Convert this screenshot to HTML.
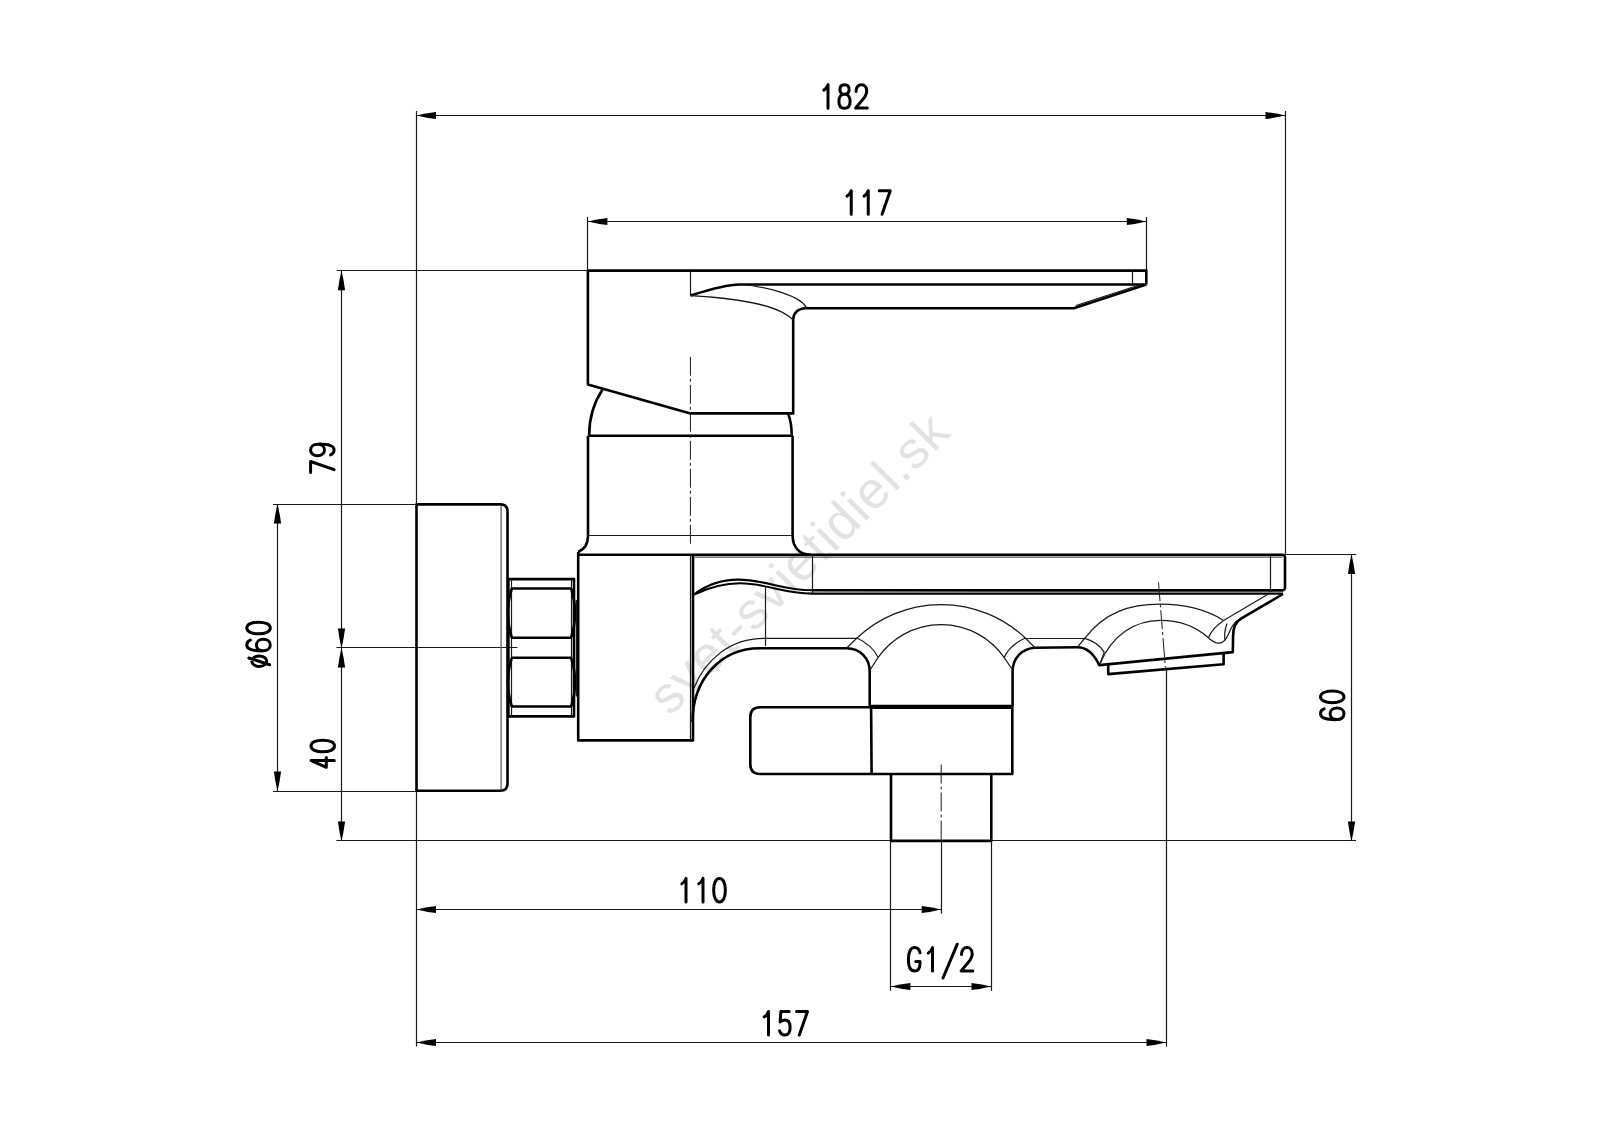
<!DOCTYPE html>
<html><head><meta charset="utf-8"><style>
html,body{margin:0;padding:0;background:#fff;width:1600px;height:1131px;overflow:hidden}
svg{display:block}
.tn{fill:none;stroke:#1a1a1a;stroke-width:1.2}
.tk{fill:none;stroke:#000;stroke-width:2.6;stroke-linejoin:round}
.cl{fill:none;stroke:#1a1a1a;stroke-width:1;stroke-dasharray:19 3 3 3}
.ar{fill:#000;stroke:none}
.md{fill:none;stroke:#555;stroke-width:1.2}
.md2{fill:none;stroke:#000;stroke-width:2.1;stroke-linejoin:round}
.tx path{fill:none;stroke:#000;stroke-width:3;stroke-linecap:round;stroke-linejoin:round}
.wm{font-family:"Liberation Sans",sans-serif;fill:#e2e2e2}
</style></head><body>
<svg width="1600" height="1131" viewBox="0 0 1600 1131">
<text class="wm" font-size="52" letter-spacing="1.2" transform="translate(669.9,717.05) rotate(-45)">svet-svietidiel.sk</text>
<path class="tn" d="M416.5,111.0 L416.5,1046.5"/>
<path class="tn" d="M1285.5,111.0 L1285.5,554.6"/>
<path class="tn" d="M416.5,115.5 L1285.0,115.5"/>
<path class="ar" d="M416.50,115.50 Q425.27,117.73 436.00,119.10 L436.00,111.90 L436.00,111.90 Q425.27,113.27 416.50,115.50 Z"/>
<path class="ar" d="M1285.00,115.50 Q1276.22,117.73 1265.50,119.10 L1265.50,111.90 L1265.50,111.90 Q1276.22,113.27 1285.00,115.50 Z"/>
<path class="tn" d="M587.5,217.0 L587.5,270.6"/>
<path class="tn" d="M1146.5,217.0 L1146.5,270.6"/>
<path class="tn" d="M587.9,221.5 L1146.3,221.5"/>
<path class="ar" d="M587.90,221.50 Q596.67,223.73 607.40,225.10 L607.40,217.90 L607.40,217.90 Q596.67,219.27 587.90,221.50 Z"/>
<path class="ar" d="M1146.30,221.50 Q1137.52,223.73 1126.80,225.10 L1126.80,217.90 L1126.80,217.90 Q1137.52,219.27 1146.30,221.50 Z"/>
<path class="tn" d="M341.5,270.7 L341.5,840.9"/>
<path class="tn" d="M336.8,270.5 L587.9,270.5"/>
<path class="tn" d="M336.4,647.5 L517.4,647.5"/>
<path class="ar" d="M341.50,270.70 Q343.73,279.47 345.10,290.20 L337.90,290.20 L337.90,290.20 Q339.27,279.47 341.50,270.70 Z"/>
<path class="ar" d="M341.50,647.90 Q343.73,639.12 345.10,628.40 L337.90,628.40 L337.90,628.40 Q339.27,639.12 341.50,647.90 Z"/>
<path class="ar" d="M341.50,647.90 Q343.73,656.67 345.10,667.40 L337.90,667.40 L337.90,667.40 Q339.27,656.67 341.50,647.90 Z"/>
<path class="ar" d="M341.50,840.90 Q343.73,832.12 345.10,821.40 L337.90,821.40 L337.90,821.40 Q339.27,832.12 341.50,840.90 Z"/>
<path class="tn" d="M277.5,504.1 L277.5,791.1"/>
<path class="tn" d="M273.0,504.5 L416.5,504.5"/>
<path class="tn" d="M273.0,791.5 L416.5,791.5"/>
<path class="ar" d="M277.50,504.10 Q279.73,512.88 281.10,523.60 L273.90,523.60 L273.90,523.60 Q275.27,512.88 277.50,504.10 Z"/>
<path class="ar" d="M277.50,791.10 Q279.73,782.33 281.10,771.60 L273.90,771.60 L273.90,771.60 Q275.27,782.33 277.50,791.10 Z"/>
<path class="tn" d="M336.4,840.5 L1356.0,840.5"/>
<path class="tn" d="M1285.0,554.5 L1356.2,554.5"/>
<path class="tn" d="M1351.5,554.6 L1351.5,840.9"/>
<path class="ar" d="M1351.50,554.60 Q1353.73,563.38 1355.10,574.10 L1347.90,574.10 L1347.90,574.10 Q1349.27,563.38 1351.50,554.60 Z"/>
<path class="ar" d="M1351.50,840.90 Q1353.73,832.12 1355.10,821.40 L1347.90,821.40 L1347.90,821.40 Q1349.27,832.12 1351.50,840.90 Z"/>
<path class="tn" d="M416.5,909.5 L941.2,909.5"/>
<path class="tn" d="M941.5,840.9 L941.5,913.6"/>
<path class="ar" d="M416.50,909.50 Q425.27,911.73 436.00,913.10 L436.00,905.90 L436.00,905.90 Q425.27,907.27 416.50,909.50 Z"/>
<path class="ar" d="M941.20,909.50 Q932.43,911.73 921.70,913.10 L921.70,905.90 L921.70,905.90 Q932.43,907.27 941.20,909.50 Z"/>
<path class="tn" d="M890.5,840.9 L890.5,990.8"/>
<path class="tn" d="M991.5,840.9 L991.5,990.8"/>
<path class="tn" d="M890.9,986.5 L991.0,986.5"/>
<path class="ar" d="M890.90,986.50 Q899.67,988.73 910.40,990.10 L910.40,982.90 L910.40,982.90 Q899.67,984.27 890.90,986.50 Z"/>
<path class="ar" d="M991.00,986.50 Q982.23,988.73 971.50,990.10 L971.50,982.90 L971.50,982.90 Q982.23,984.27 991.00,986.50 Z"/>
<path class="tn" d="M416.5,1042.5 L1166.0,1042.5"/>
<path class="tn" d="M1166.5,667.5 L1166.5,1046.5"/>
<path class="ar" d="M416.50,1042.50 Q425.27,1044.73 436.00,1046.10 L436.00,1038.90 L436.00,1038.90 Q425.27,1040.27 416.50,1042.50 Z"/>
<path class="ar" d="M1166.00,1042.50 Q1157.22,1044.73 1146.50,1046.10 L1146.50,1038.90 L1146.50,1038.90 Q1157.22,1040.27 1166.00,1042.50 Z"/>
<g class="tx" transform="translate(819.00,84.75)"><path transform="translate(0.00,0)" d="M4.8,5.4 C6.8,4.3 8.2,2.5 9,0 L9,23.5"/><path transform="translate(17.00,0)" d="M8.5,0 C11.4,0 13.1,2 13.1,4.8 C13.1,7.6 11.4,9.6 8.5,9.6 C5.6,9.6 3.9,7.6 3.9,4.8 C3.9,2 5.6,0 8.5,0 Z M8.5,9.6 C12,9.6 14.1,12.4 14.1,16.5 C14.1,20.8 12,23.5 8.5,23.5 C5,23.5 2.9,20.8 2.9,16.5 C2.9,12.4 5,9.6 8.5,9.6 Z"/><path transform="translate(34.00,0)" d="M3,6.8 C3,2.6 5.2,0 8.5,0 C11.7,0 13.7,2.6 13.7,6.4 C13.7,9.6 12.2,11.8 9.9,14.6 L2.6,23.3 L14.3,23.3"/></g>
<g class="tx" transform="translate(842.25,190.75)"><path transform="translate(0.00,0)" d="M4.8,5.4 C6.8,4.3 8.2,2.5 9,0 L9,23.5"/><path transform="translate(17.00,0)" d="M4.8,5.4 C6.8,4.3 8.2,2.5 9,0 L9,23.5"/><path transform="translate(34.00,0)" d="M3,0 L14,0 L5.8,23.5"/></g>
<g class="tx" transform="translate(677.00,878.40)"><path transform="translate(0.00,0)" d="M4.8,5.4 C6.8,4.3 8.2,2.5 9,0 L9,23.5"/><path transform="translate(17.00,0)" d="M4.8,5.4 C6.8,4.3 8.2,2.5 9,0 L9,23.5"/><path transform="translate(34.00,0)" d="M8.5,0 C12.2,0 14.35,5 14.35,11.75 C14.35,18.5 12.2,23.5 8.5,23.5 C4.8,23.5 2.65,18.5 2.65,11.75 C2.65,5 4.8,0 8.5,0 Z"/></g>
<g class="tx" transform="translate(759.50,1011.50)"><path transform="translate(0.00,0)" d="M4.8,5.4 C6.8,4.3 8.2,2.5 9,0 L9,23.5"/><path transform="translate(17.00,0)" d="M12.6,0 L4.4,0 L3.6,10.4 C4.8,9.2 6.4,8.4 8.4,8.4 C11.8,8.4 13.6,11.4 13.6,15.9 C13.6,20.6 11.6,23.5 8.4,23.5 C5.8,23.5 3.9,21.9 3.1,19.3"/><path transform="translate(34.00,0)" d="M3,0 L14,0 L5.8,23.5"/></g>
<g class="tx" transform="translate(906.00,947.60)"><path transform="translate(0.00,0)" d="M14,5.2 C13.2,1.8 11.2,0 8.6,0 C4.6,0 2.4,4.6 2.4,11.75 C2.4,18.9 4.6,23.5 8.6,23.5 C12,23.5 14,20.6 14,16 L14,13.8 L9.8,13.8"/><path transform="translate(17.50,0)" d="M4.8,5.4 C6.8,4.3 8.2,2.5 9,0 L9,23.5"/><path transform="translate(35.00,0)" d="M2,30.4 L16.3,-3.4"/><path transform="translate(52.50,0)" d="M3,6.8 C3,2.6 5.2,0 8.5,0 C11.7,0 13.7,2.6 13.7,6.4 C13.7,9.6 12.2,11.8 9.9,14.6 L2.6,23.3 L14.3,23.3"/></g>
<g class="tx" transform="translate(310.60,475.50) rotate(-90)"><path transform="translate(0.00,0)" d="M3,0 L14,0 L5.8,23.5"/><path transform="translate(17.00,0)" d="M3.6,19.9 C4.4,22.2 6.2,23.5 8.4,23.5 C12.4,23.5 14.4,18.5 14.4,8.5 M8.5,13.9 C5,13.9 2.8,10.9 2.8,7 C2.8,2.9 5,0 8.5,0 C12,0 14.2,2.9 14.2,7 C14.2,10.9 12,13.9 8.5,13.9 Z"/></g>
<g class="tx" transform="translate(311.00,771.50) rotate(-90)"><path transform="translate(0.00,0)" d="M11,23.3 L11,0 L4.2,15.3 L14,15.3"/><path transform="translate(17.00,0)" d="M8.5,0 C12.2,0 14.35,5 14.35,11.75 C14.35,18.5 12.2,23.5 8.5,23.5 C4.8,23.5 2.65,18.5 2.65,11.75 C2.65,5 4.8,0 8.5,0 Z"/></g>
<g class="tx" transform="translate(246.80,670.50) rotate(-90)"><path transform="translate(0.00,0)" d="M9.3,5 C12.2,5 14.5,8.4 14.5,12.5 C14.5,16.6 12.2,20 9.3,20 C6.4,20 4.1,16.6 4.1,12.5 C4.1,8.4 6.4,5 9.3,5 Z M5.8,22.8 L12.5,2.1"/><path transform="translate(17.00,0)" d="M13.4,3.6 C12.6,1.3 10.8,0 8.6,0 C4.6,0 2.6,5 2.6,15 M8.5,9.6 C12,9.6 14.2,12.6 14.2,16.5 C14.2,20.6 12,23.5 8.5,23.5 C5,23.5 2.8,20.6 2.8,16.5 C2.8,12.6 5,9.6 8.5,9.6 Z"/><path transform="translate(34.00,0)" d="M8.5,0 C12.2,0 14.35,5 14.35,11.75 C14.35,18.5 12.2,23.5 8.5,23.5 C4.8,23.5 2.65,18.5 2.65,11.75 C2.65,5 4.8,0 8.5,0 Z"/></g>
<g class="tx" transform="translate(1320.50,722.30) rotate(-90)"><path transform="translate(0.00,0)" d="M13.4,3.6 C12.6,1.3 10.8,0 8.6,0 C4.6,0 2.6,5 2.6,15 M8.5,9.6 C12,9.6 14.2,12.6 14.2,16.5 C14.2,20.6 12,23.5 8.5,23.5 C5,23.5 2.8,20.6 2.8,16.5 C2.8,12.6 5,9.6 8.5,9.6 Z"/><path transform="translate(17.00,0)" d="M8.5,0 C12.2,0 14.35,5 14.35,11.75 C14.35,18.5 12.2,23.5 8.5,23.5 C4.8,23.5 2.65,18.5 2.65,11.75 C2.65,5 4.8,0 8.5,0 Z"/></g>
<path class="tk" d="M587.9,270.6 L1146.3,270.6 L1146.3,284.5"/>
<path class="tk" d="M740,284.5 L1146.3,284.5"/>
<path class="tk" d="M690.5,295.6 C705,291 722,285 740,284.5"/>
<path class="tn" d="M690.5,270.6 L690.5,295.6"/>
<path class="tn" d="M1132.5,270.6 L1132.5,284.5"/>
<path class="tk" d="M806,308.3 L1073.8,308.3 L1146.3,284.5"/>
<path class="tn" d="M1076.0,305.6 L1140.0,284.8"/>
<path class="tk" d="M587.9,270.6 L587.9,384.6 L690.5,413.4 L793.2,413.4 L793.2,320.3 C793.2,313 798,308.3 806,308.3"/>
<path class="tn" d="M690.5,295.6 C735,298 780,305 793.2,320.3"/>
<path class="tn" d="M740,284.5 C770,287 800,296 806.5,307.5"/>
<path class="tk" d="M602.4,389.7 C593,404 589.2,418 589.2,434.8"/>
<path class="tk" d="M788.2,413.6 C790.5,420 791.7,427 791.7,434.8"/>
<path class="tk" d="M587.9,435.7 L793,435.7"/>
<path class="tk" d="M588,435.7 L588,536 C588,544 584,549.5 578.2,552"/>
<path class="tk" d="M792.6,435.7 L792.6,535 C792.6,547 799,554.7 811,554.7"/>
<path class="tn" d="M588.0,535.5 L792.6,535.5"/>
<path class="cl" d="M690.4,356.8 L690.4,545"/>
<path class="tk" d="M578.2,554.7 L1282.2,554.7 Q1285,554.7 1285,557.5 L1285,587.6 Q1285,590.4 1282.2,590.4 L812,590.3"/>
<path class="md" d="M694.5,557.1 L1282.5,557.1"/>
<path class="tn" d="M1270.5,554.7 L1270.5,592.0"/>
<path class="tn" d="M812.5,554.7 L812.5,593.0"/>
<path class="md2" d="M812,593.6 L1283,593.6"/>
<path class="tk" d="M1283,594 L1241,618.7 C1235.5,622 1233.1,628 1233.1,636 L1232.8,652.1 L1099.3,665.1 C1095,656 1088,647.2 1077.4,647.2 L1035.2,647.8 C1022,648.5 1012.6,658 1012.6,671.6 L1012.6,706"/>
<path class="tn" d="M1267.5,594.6 L1223.6,620.4"/>
<path class="tk" d="M1108.2,664.5 L1108.2,674.1 L1223.6,664.3 L1223.6,653.5"/>
<path class="tk" d="M760,648.2 L846.4,648.2 C860,648.2 869.7,658 869.7,671.6 L869.7,707.5"/>
<path class="tk" d="M871.1,706.5 L871.6,774"/>
<path class="tk" d="M692.5,722 C692.5,680 720,648.2 760,648.2"/>
<path class="tn" d="M694,688 C705,660 730,638.4 764,638.4 L857,638.4"/>
<path class="tn" d="M765.5,586.0 L765.5,646.0"/>
<path class="md2" d="M694,594.5 C705,586 720,579.6 738,579.6 C765,579.6 782,590.3 812.3,590.3"/>
<path class="md2" d="M694,594.5 C707,588.5 722,583.3 740,583.3 C766,583.3 783,593.6 812.3,593.6"/>
<path class="tk" d="M578.2,552 L578.2,740.4 L693,740.4 L693,554.7"/>
<path class="tn" d="M690.5,554.7 L690.5,740.4"/>
<path class="tk" d="M508.4,579.1 L574,579.1 L574,716.4 L508.4,716.4 Z"/>
<path class="tn" d="M511.5,579.1 L511.5,716.4"/>
<path class="tn" d="M571.5,579.1 L571.5,716.4"/>
<path class="tk" d="M511.8,588.5 L571.2,588.5"/>
<path class="tk" d="M511.8,637.7 L571.2,637.7"/>
<path class="tk" d="M511.8,657.8 L571.2,657.8"/>
<path class="tk" d="M511.8,706.5 L571.2,706.5"/>
<path class="tk" d="M511.8,588.5 Q504,613 511.8,637.7"/>
<path class="tk" d="M571.2,588.5 Q579,613 571.2,637.7"/>
<path class="tk" d="M511.8,657.8 Q504,682 511.8,706.5"/>
<path class="tk" d="M571.2,657.8 Q579,682 571.2,706.5"/>
<path class="tn" d="M576.5,600.0 L576.5,696.6"/>
<path class="tk" d="M416.5,504.4 L500.5,504.4 Q507.5,504.4 507.5,511.4 L507.5,783.8 Q507.5,790.8 500.5,790.8 L416.5,790.8 Z"/>
<path class="md" d="M501.1,505 L501.1,790.2"/>
<path class="tn" d="M857,638 A122.6,122.6 0 0 1 1025.3,638"/>
<path class="tn" d="M878.2,657.4 A76.8,76.8 0 0 1 1004.1,657.4"/>
<path class="tn" d="M846.4,648.2 L857,638 Q872,645 878.2,657.4 L870,670"/>
<path class="tn" d="M1035.2,648 L1025.3,638 Q1010,645 1004.1,657.4 L1012.6,670"/>
<path class="tn" d="M1025.3,638.5 L1084.7,638.5"/>
<path class="tn" d="M1084.7,638.3 C1105,612 1130,604.2 1160.2,604.2 C1190,604.2 1210,612 1223.6,620.4"/>
<path class="tn" d="M1100.1,663.5 C1112,635 1135,620.4 1160.2,620.4 C1180,620.4 1196,627 1207.5,637 C1212,641.5 1215.5,643.2 1219,643.2 C1224,643.2 1227,638 1229,633 C1231,628 1233,624 1237,620.8"/>
<path class="tn" d="M1077.4,647.2 L1084.7,638.3 Q1098,642 1104.2,652.1 L1100.1,663.5"/>
<path class="tn" d="M1223.6,620.4 C1217,625 1211,631 1208.5,637.5"/>
<path class="tn" d="M1227,623.5 C1224.5,630 1224.3,636 1225,640.5"/>
<path class="cl" d="M1158.5,582.3 L1165.4,667.5"/>
<path class="tk" d="M871.3,707.3 L760.3,707.3 Q750.3,707.3 750.3,717.3 L750.3,764 Q750.3,774 760.3,774 L1012.3,774 L1012.3,706 L871,706"/>
<path class="tk" d="M871,707.6 L1012.3,707.6"/>
<path class="tk" d="M891,774 L891,840.9 L991.3,840.9 L991.3,774"/>
<path class="cl" d="M941.2,764.5 L941.2,840.9"/>
</svg></body></html>
